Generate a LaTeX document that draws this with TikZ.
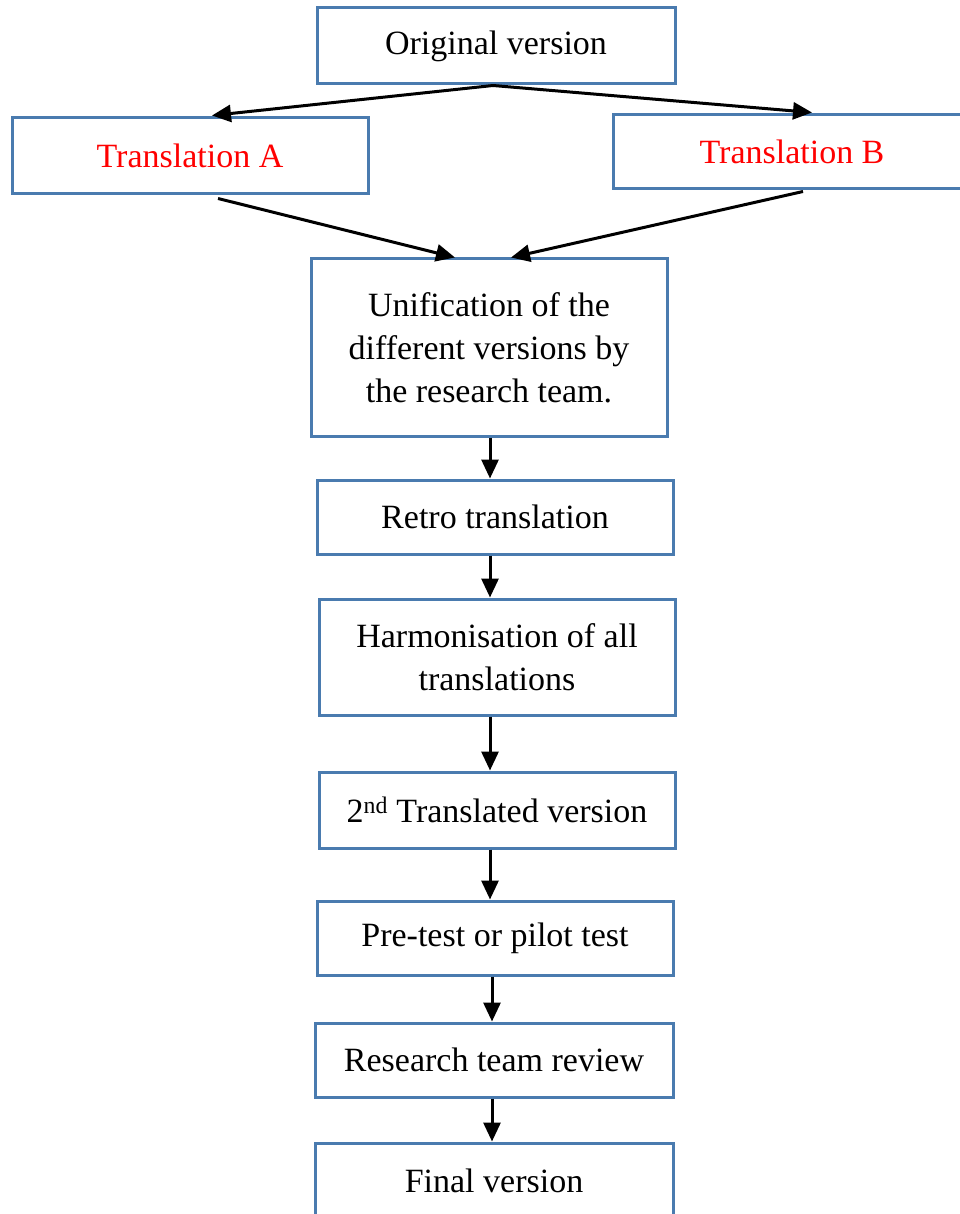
\documentclass[tikz,border=0pt]{standalone}
\usepackage{fontspec}
\setmainfont{Liberation Serif}
\usetikzlibrary{arrows.meta}
\definecolor{boxblue}{HTML}{4A7BAF}
\definecolor{txtred}{HTML}{FF0000}
\begin{document}
\begin{tikzpicture}[x=1pt,y=-1pt,
  box/.style={draw=boxblue,line width=3pt,rectangle,inner sep=0pt,align=center,
    font=\fontsize{34}{43}\selectfont,text=black},
  arr/.style={draw=black,line width=3pt,-{Triangle[length=19pt,width=17pt]}}]
\useasboundingbox (0,0) rectangle (959,1214);
\fill[white] (0,0) rectangle (959,1214);
\node[box,minimum width=358pt,minimum height=76pt] (orig) at (496,46) {Original version};
\node[box,minimum width=356pt,minimum height=76pt,text=txtred] (ta) at (190,156) {Translation A};
\node[box,minimum width=358pt,minimum height=74pt,text=txtred] (tb) at (792,152) {Translation B};
\node[box,minimum width=356pt,minimum height=177pt] (unif) at (489,347.5) {Unification of the\\different versions by\\the research team.};
\node[box,minimum width=356pt,minimum height=74pt] (retro) at (495,517) {Retro translation};
\node[box,minimum width=356pt,minimum height=116pt] (harm) at (497,657) {Harmonisation of all\\translations};
\node[box,minimum width=356pt,minimum height=76pt] (second) at (497,810) {2\textsuperscript{nd} Translated version};
\node[box,minimum width=356pt,minimum height=74pt] (pre) at (495,938) {Pre-test or pilot test};
\node[box,minimum width=358pt,minimum height=74pt] (res) at (494,1060) {Research team review};
\node[box,minimum width=358pt,minimum height=76pt] (final) at (494,1181) {Final version};
\draw[arr] ([xshift=-3pt]orig.south) -- ([xshift=22pt,yshift=1pt]ta.north);
\draw[arr] ([xshift=-3pt]orig.south) -- ([xshift=20pt,yshift=1pt]tb.north);
\draw[arr] ([xshift=28pt,yshift=-3pt]ta.south) -- ([xshift=-34pt]unif.north);
\draw[arr] ([xshift=11pt,yshift=-1pt]tb.south) -- ([xshift=22pt]unif.north);
\draw[arr] ([xshift=1pt]unif.south) -- ([xshift=1pt]unif.south |- retro.north);
\draw[arr] ([xshift=1pt]unif.south |- retro.south) -- ([xshift=1pt]unif.south |- harm.north);
\draw[arr] ([xshift=1pt]unif.south |- harm.south) -- ([xshift=1pt]unif.south |- second.north);
\draw[arr] ([xshift=1pt]unif.south |- second.south) -- ([xshift=1pt]unif.south |- pre.north);
\draw[arr] ([xshift=3pt]unif.south |- pre.south) -- ([xshift=3pt]unif.south |- res.north);
\draw[arr] ([xshift=3pt]unif.south |- res.south) -- ([xshift=3pt]unif.south |- final.north);
\end{tikzpicture}
\end{document}
